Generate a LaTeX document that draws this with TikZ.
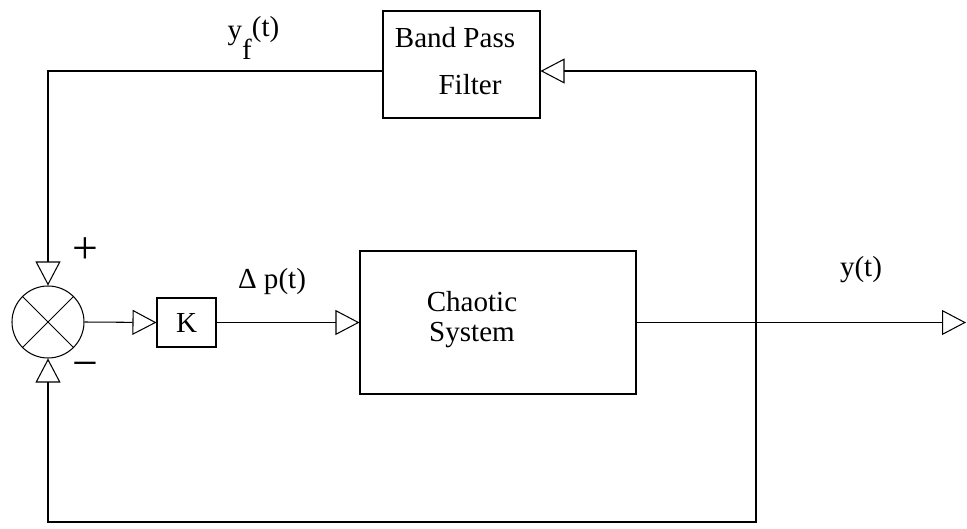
\documentclass[tikz,border=0pt]{standalone}
\usepackage{fontspec}
\setmainfont{Liberation Serif}
\usetikzlibrary{arrows.meta,positioning}

\begin{document}
\begin{tikzpicture}[x=0.03cm,y=-0.03cm,line width=0.9pt,
  every node/.append style={font=\fontsize{24.8}{25.6}\selectfont},
  blk/.style={draw,inner sep=0pt},
  sig/.style={-{Triangle[open,length=0.72cm,width=0.75cm]}},
  sgn/.style={font=\fontsize{39}{40}\selectfont,inner sep=0pt}]
\useasboundingbox (0,0) rectangle (967,529);
% blocks
\node[draw,circle,minimum size=2.16cm,inner sep=0pt] (sum) at (48,322) {};
\draw (sum.45) -- (sum.225) (sum.135) -- (sum.315);
\node[blk,minimum width=1.77cm,minimum height=1.47cm] (K) at (186.5,322.5) {K};
\node[blk,minimum width=8.28cm,minimum height=4.29cm] (chaos) at (498,322.5) {};
\node[align=center] (chtxt) at (472,320) {Chaotic\\System};
\node[blk,minimum width=4.71cm,minimum height=3.21cm] (bpf) at (461.5,64.5) {};
\node (bp) at (455,38) {Band Pass}; \node (flt) at (470,85) {Filter};
% corners of the loops
\coordinate (tr) at (756,71); \coordinate (tl) at (48,71);
\coordinate (br) at (756,522); \coordinate (bl) at (48,522);
\coordinate (out) at (966,322.5);
% signals
\draw[sig] (sum.east) -- (K.west);
\draw[sig] (K.east) -- (chaos.west);
\draw[sig] (chaos.east) -- (out);
\draw[sig] (tr) -- (tr -| bpf.east);
\draw[sig] (tr -| bpf.west) -- (tl) -- (sum.north);
\draw[sig] (tr) -- (br) -- (bl) -- (sum.south);
% labels
\node (yf) at (253.5,38) {y\raisebox{-0.69em}{f}\raisebox{0.1em}{(t)}};
\node (dp) at (272,282) {Δ p(t)};
\node (yt) at (861,270) {y(t)};
\node[sgn] (plus) at (85,251) {+}; \node[sgn] (minus) at (85,370) {−};
\end{tikzpicture}
\end{document}
